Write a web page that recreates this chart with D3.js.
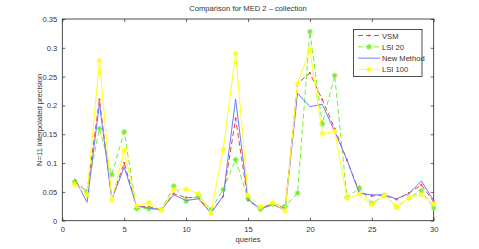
<!DOCTYPE html>
<html><head><meta charset="utf-8">
<script src="https://cdn.jsdelivr.net/npm/d3@7"></script>
<style>
body{margin:0;background:#fff;}
svg{display:block;font-family:"Liberation Sans Narrow","Liberation Sans",Arial,sans-serif;}
</style></head>
<body><svg id="c" width="479" height="249"></svg>
<script>
const queries = d3.range(1, 31);
const vsm = [0.069,0.050,0.210,0.038,0.100,0.025,0.024,0.019,0.047,0.040,0.040,0.014,0.042,0.177,0.035,0.021,0.030,0.021,0.238,0.256,0.210,0.160,0.105,0.050,0.043,0.044,0.037,0.048,0.062,0.033];
const lsi20 = [0.067,0.051,0.160,0.080,0.154,0.021,0.021,0.019,0.060,0.034,0.043,0.019,0.054,0.106,0.039,0.020,0.029,0.025,0.048,0.328,0.168,0.252,0.040,0.057,0.030,0.044,0.024,0.040,0.052,0.022];
const newMethod = [0.073,0.032,0.203,0.037,0.093,0.025,0.022,0.019,0.045,0.035,0.038,0.013,0.043,0.211,0.037,0.020,0.028,0.018,0.221,0.198,0.202,0.155,0.105,0.047,0.045,0.045,0.038,0.047,0.069,0.035];
const lsi100 = [0.063,0.045,0.278,0.036,0.122,0.026,0.031,0.018,0.054,0.055,0.047,0.013,0.124,0.290,0.044,0.024,0.031,0.017,0.238,0.297,0.151,0.155,0.039,0.046,0.028,0.044,0.024,0.040,0.045,0.029];
const xTicks = [0,5,10,15,20,25,30];
const yTicks = [0,0.05,0.1,0.15,0.2,0.25,0.3,0.35];
const seriesNames = ["VSM","LSI 20","New Method","LSI 100"];

const series = [
  {name: seriesNames[0], values: vsm, color: "#ff3b3b", dash: "5,3", marker: "dot"},
  {name: seriesNames[1], values: lsi20, color: "#77ee33", dash: "5,3", marker: "star"},
  {name: seriesNames[2], values: newMethod, color: "#6a7cff", dash: null, marker: null},
  {name: seriesNames[3], values: lsi100, color: "#ffff1a", dash: null, marker: "star"}
];

const svg = d3.select("#c");
const L = 62.3, R = 433.7, T = 19, B = 220.7;
const x = d3.scaleLinear().domain([0,30]).range([L,R]);
const y = d3.scaleLinear().domain([0,0.35]).range([B,T]);

svg.append("rect").attr("x",L).attr("y",T).attr("width",R-L).attr("height",B-T)
  .attr("fill","#fff").attr("stroke","#222").attr("stroke-width",0.8);

const fs = 7.6;
const gx = svg.append("g").attr("transform",`translate(0,${B})`)
  .call(d3.axisBottom(x).tickValues(xTicks).tickFormat(d3.format("d")).tickSizeInner(-3).tickSizeOuter(0).tickPadding(6));
const gxt = svg.append("g").attr("transform",`translate(0,${T})`)
  .call(d3.axisTop(x).tickValues(xTicks).tickFormat("").tickSizeInner(-3).tickSizeOuter(0));
const gy = svg.append("g").attr("transform",`translate(${L},0)`)
  .call(d3.axisLeft(y).tickValues(yTicks).tickFormat(d => d===0 ? "0" : d3.format("")(+d.toFixed(2))).tickSizeInner(-3).tickSizeOuter(0).tickPadding(5));
const gyr = svg.append("g").attr("transform",`translate(${R},0)`)
  .call(d3.axisRight(y).tickValues(yTicks).tickFormat("").tickSizeInner(-3).tickSizeOuter(0));
[gx,gxt,gy,gyr].forEach(g => {
  g.select(".domain").remove();
  g.selectAll("line").attr("stroke","#222").attr("stroke-width",0.7);
  g.selectAll("text").attr("font-size",fs).attr("fill","#333").attr("font-family",null);
});

svg.append("text").attr("x",(L+R)/2).attr("y",11).attr("text-anchor","middle")
  .attr("font-size",fs).attr("fill","#333").text("Comparison for MED 2 \u2013 collection");
svg.append("text").attr("x",(L+R)/2).attr("y",242).attr("text-anchor","middle")
  .attr("font-size",fs).attr("fill","#333").text("queries");
svg.append("text").attr("transform",`translate(42,${(T+B)/2}) rotate(-90)`).attr("text-anchor","middle")
  .attr("font-size",fs).attr("fill","#333").text("N=11 interpolated precision");

const line = d3.line().x((d,i) => x(queries[i])).y(d => y(d));

function starPath(r){
  const a = r*0.7;
  return `M${-r},0L${r},0M0,${-r}L0,${r}M${-a},${-a}L${a},${a}M${-a},${a}L${a},${-a}`;
}
function drawMarker(g, type, color, cx, cy){
  if (type === "dot") {
    g.append("circle").attr("cx",cx).attr("cy",cy).attr("r",1.1).attr("fill",color);
  } else if (type === "star") {
    g.append("path").attr("d",starPath(2.8)).attr("transform",`translate(${cx},${cy})`)
      .attr("stroke",color).attr("stroke-width",1.1).attr("fill","none");
  }
}

const plotG = svg.append("g");
series.forEach(s => {
  plotG.append("path").datum(s.values).attr("d",line).attr("fill","none")
    .attr("stroke",s.color).attr("stroke-width",1)
    .attr("stroke-dasharray",s.dash);
  if (s.marker) {
    const mg = plotG.append("g");
    s.values.forEach((v,i) => drawMarker(mg, s.marker, s.color, x(queries[i]), y(v)));
  }
});

const lg = svg.append("g");
lg.append("rect").attr("x",353.5).attr("y",29.5).attr("width",68.5).attr("height",47)
  .attr("fill","#fff").attr("stroke","#222").attr("stroke-width",0.8);
series.forEach((s,i) => {
  const ly = 35.5 + i*11.3;
  lg.append("line").attr("x1",358).attr("x2",380).attr("y1",ly).attr("y2",ly)
    .attr("stroke",s.color).attr("stroke-width",1).attr("stroke-dasharray",s.dash);
  if (s.marker) drawMarker(lg, s.marker, s.color, 369, ly);
  lg.append("text").attr("x",382).attr("y",ly+3).attr("font-size",fs).attr("fill","#333").text(s.name);
});
</script></body></html>
